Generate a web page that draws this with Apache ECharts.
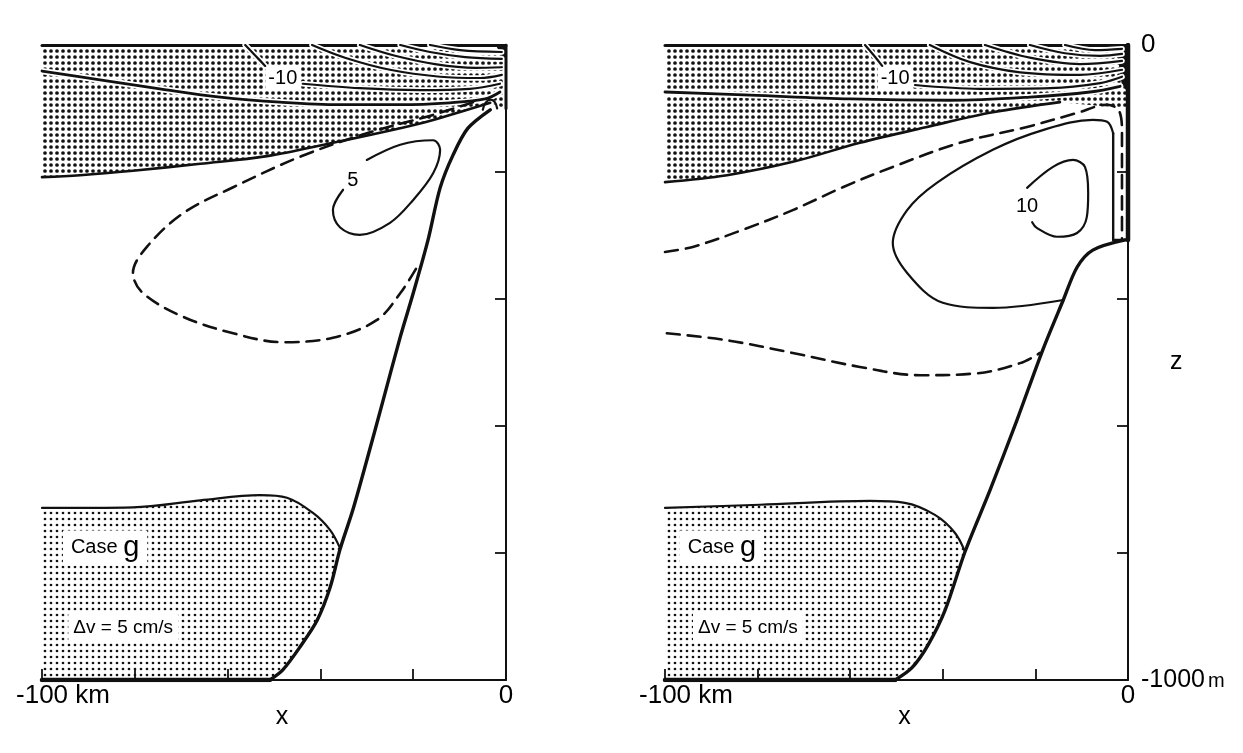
<!DOCTYPE html>
<html>
<head>
<meta charset="utf-8">
<script src="https://cdn.jsdelivr.net/npm/echarts@6/dist/echarts.min.js"></script>
<style>
  html, body { margin: 0; padding: 0; background: #ffffff; }
  #chart { width: 1243px; height: 753px; }
</style>
</head>
<body>
<div id="chart"></div>
<script>
// ---- axes -------------------------------------------------------------
const xRange = [-100, 0];      // km
const zRange = [-1000, 0];     // m
const xStep = 20;
const zStep = 200;
const xTickLabels = { '-100': '-100 km', '0': '0' };
const zTickLabels = { '0': '0', '-1000': '-1000 m' };

// ---- left section: contours of v, [x km, z m] -------------------------
const L_zeroTop = [[-3.4,-91],[-15.7,-118],[-22.8,-131],[-37.3,-154],[-51.5,-175],[-65.9,-187],[-80.4,-198],[-91.8,-205],[-100,-208]];
const L_neg5  = [[-100,-41],[-87.5,-55],[-74.6,-69],[-61.6,-82],[-48.7,-90],[-35.8,-94],[-22.8,-94],[-12.1,-91],[-4.5,-85],[-1.3,-74]];
const L_neg10a = [[-56.2,0],[-54.1,-16],[-51.9,-33]];
const L_neg10b = [[-43.8,-61],[-31.5,-68],[-18.5,-71],[-7.8,-69],[-1.3,-61]];
const L_neg15 = [[-41.8,0],[-34.7,-20],[-25,-39],[-14.2,-50],[-5.6,-52],[-0.9,-47]];
const L_neg20 = [[-31.5,0],[-23.9,-17],[-15.3,-30],[-6.7,-36],[-0.9,-35]];
const L_neg25 = [[-22.8,0],[-16.4,-11],[-8.8,-19],[-0.9,-22]];
const L_neg30 = [[-16.4,0],[-9.9,-8],[-0.9,-11]];
const L_cap   = [[-5,-102],[-4.5,-92],[-3.4,-86],[-2.4,-90],[-1.9,-100]];
const L_dashed = [[-7.1,-90],[-15.7,-110],[-30,-139],[-44.4,-176],[-58.8,-224],[-69.6,-265],[-77.4,-318],[-80.4,-359],[-78.2,-391],[-69.6,-428],[-58.8,-454],[-48.1,-468],[-37.3,-461],[-27.8,-433],[-22.8,-391],[-19.2,-350]];
const L_pos5  = [[-30,-181],[-22.8,-157],[-15.7,-150],[-14.2,-165],[-15.7,-202],[-20,-244],[-25,-280],[-31.5,-299],[-35.8,-287],[-37.3,-260],[-35.1,-228]];
const L_slope = [[-3.4,-102],[-8.2,-131],[-11.4,-173],[-14.2,-225],[-16.8,-307],[-20,-391],[-22.8,-460],[-26.5,-560],[-30,-654],[-33,-732],[-35.8,-795],[-37.9,-854],[-40.7,-906],[-44.4,-948],[-48.1,-984],[-50.9,-1000]];
const L_zeroLow = [[-100,-729],[-80.4,-728],[-65.9,-717],[-53,-709],[-47.2,-713],[-41.6,-737],[-37.9,-764],[-35.8,-792]];
const L_labels = [
  { x: -48.1, z: -52,  text: '-10' },
  { x: -33,   z: -213, text: '5' }
];
const L_notes = [
  { x: -86.4, z: -792, kind: 'case', text: 'Case g' },
  { x: -82.5, z: -917, kind: 'dv',   text: '\u0394v = 5 cm/s' }
];

// ---- right section ----------------------------------------------------
const R_zeroTop = [[0,-76],[-14.7,-90],[-29.2,-106],[-43.4,-129],[-57.9,-154],[-72.4,-184],[-86.6,-205],[-100,-216]];
const R_neg5  = [[-100,-74],[-81.6,-79],[-60,-85],[-38.4,-87],[-21.2,-82],[-8.2,-74],[-1.7,-65]];
const R_neg10a = [[-56.8,0],[-54.6,-19],[-53.1,-33]];
const R_neg10b = [[-46,-63],[-32,-69],[-16.8,-68],[-6,-60],[-1.3,-50]];
const R_neg15 = [[-42.8,0],[-34.1,-27],[-23.3,-43],[-10.4,-47],[-1.3,-39]];
const R_neg20 = [[-30.9,0],[-21.2,-20],[-10.4,-30],[-1.3,-25]];
const R_neg25 = [[-21.2,0],[-13.6,-13],[-6,-17],[-1.3,-14]];
const R_neg30 = [[-13.6,0],[-7.1,-8],[-1.3,-6]];
const R_dashedUp = [[-100,-326],[-94,-318],[-83.2,-291],[-72.4,-260],[-61.6,-224],[-50.8,-192],[-36.3,-154],[-21.8,-129],[-11,-107],[-4.5,-94],[-1.9,-104],[-1.3,-139],[-1.3,-307]];
const R_dashedLow = [[-99.6,-454],[-86.6,-465],[-72.4,-485],[-57.9,-507],[-44.9,-520],[-32.6,-517],[-23.3,-501],[-19,-485]];
const R_pos5  = [[-14.3,-402],[-29.2,-414],[-40,-406],[-47.7,-359],[-50.8,-312],[-47.7,-260],[-41.3,-217],[-29.2,-165],[-18.4,-134],[-7.6,-118],[-4.5,-121],[-3.2,-139],[-3.2,-307]];
const R_pos10 = [[-21.8,-225],[-16.2,-192],[-11.9,-181],[-9.3,-192],[-8.6,-233],[-8.9,-271],[-11,-296],[-15.3,-302],[-19.7,-288],[-20.7,-279]];
const R_shelf = [[-3.2,-307],[0,-307]];
const R_slope = [[-0.6,-307],[-7.6,-323],[-11,-350],[-14,-402],[-18.4,-480],[-24,-591],[-29.8,-701],[-35.2,-798],[-39.5,-890],[-43.2,-945],[-46.7,-981],[-50.3,-1000]];
const R_zeroLow = [[-100,-729],[-79.5,-724],[-55.7,-718],[-48.2,-721],[-41.7,-740],[-37.4,-768],[-35.2,-798]];
const R_labels = [
  { x: -50.3, z: -52,  text: '-10' },
  { x: -21.8, z: -255, text: '10' }
];
const R_notes = [
  { x: -87.7, z: -792, kind: 'case', text: 'Case g' },
  { x: -82.1, z: -917, kind: 'dv',   text: '\u0394v = 5 cm/s' }
];

// ---- drawing ----------------------------------------------------------
const INK = '#111111';
const FONT = '"Liberation Sans", Arial, Helvetica, sans-serif';

function dotPattern(step, r) {
  const c = document.createElement('canvas');
  c.width = c.height = step;
  const g = c.getContext('2d');
  g.fillStyle = INK;
  g.beginPath();
  g.arc(step / 2, step / 2, r, 0, Math.PI * 2);
  g.fill();
  return { image: c, repeat: 'repeat' };
}
const denseDots = dotPattern(6, 1.85);
const lightDots = dotPattern(6, 1.35);

function area(p, pts, fill, z) {
  return {
    type: 'custom', coordinateSystem: 'cartesian2d',
    xAxisIndex: 2 * p, yAxisIndex: p, silent: true, z: z || 1,
    data: [pts[0]],
    renderItem: (params, api) => ({
      type: 'polygon',
      shape: { points: pts.map(v => api.coord(v)) },
      style: { fill: fill, stroke: null }
    })
  };
}

function curve(p, pts, width, opts) {
  opts = opts || {};
  return {
    type: 'line', xAxisIndex: 2 * p, yAxisIndex: p, silent: true,
    data: pts, symbol: 'none', showSymbol: false,
    smooth: opts.smooth === undefined ? 0.35 : opts.smooth,
    z: opts.z || 4,
    lineStyle: {
      color: opts.color || INK, width: width,
      type: opts.dash || 'solid', cap: 'round', join: 'round'
    }
  };
}

// contour drawn over stipple: a white halo under the black line
function haloCurve(p, pts, width) {
  return [
    curve(p, pts, width + 3.5, { color: '#ffffff', z: 3 }),
    curve(p, pts, width, { z: 4 })
  ];
}

function labels(p, list) {
  return {
    type: 'scatter', xAxisIndex: 2 * p, yAxisIndex: p, silent: true, z: 6,
    symbolSize: 0, itemStyle: { opacity: 1 },
    data: list.map(d => ({ value: [d.x, d.z], name: d.text })),
    label: {
      show: true, position: 'inside', formatter: '{b}',
      color: '#000000', fontFamily: FONT, fontSize: 20,
      backgroundColor: '#ffffff', padding: [1, 3]
    }
  };
}

function notes(p, list) {
  return {
    type: 'scatter', xAxisIndex: 2 * p, yAxisIndex: p, silent: true, z: 6,
    symbolSize: 0, itemStyle: { opacity: 1 },
    data: list.map(d => ({
      value: [d.x, d.z], name: d.text,
      label: d.kind === 'case'
        ? { formatter: '{a|Case }{g|g}', padding: [3, 8] }
        : { formatter: '{d|' + d.text + '}', padding: [5, 5] }
    })),
    label: {
      show: true, position: 'inside', color: '#000000', fontFamily: FONT,
      backgroundColor: '#ffffff',
      rich: {
        a: { fontSize: 20, fontFamily: FONT, color: '#000000' },
        g: { fontSize: 29, fontFamily: FONT, color: '#000000' },
        d: { fontSize: 19, fontFamily: FONT, color: '#000000' }
      }
    }
  };
}

function panel(p, D) {
  const topZone = [[-100, 0], [0, 0], [0, D.zeroTop[0][1] - 10]].concat(D.zeroTop);
  const lowerSlope = D.slope.filter(v => v[1] < D.zeroLow[D.zeroLow.length - 1][1] - 5);
  const lowZone = D.zeroLow.concat(lowerSlope, [[-100, -1000]]);
  const bottomEdge = [[-100, -1000], lowerSlope[lowerSlope.length - 1]];
  let s = [
    area(p, topZone, denseDots, 1),
    area(p, lowZone, lightDots, 1),
    area(p, D.corner, INK, 2)
  ];
  [D.neg10a, D.neg10b, D.neg15, D.neg20, D.neg25, D.neg30].forEach(c => { s = s.concat(haloCurve(p, c, 2.2)); });
  s = s.concat(haloCurve(p, D.neg5, 2.8));
  s.push(curve(p, D.zeroTop, 2.6));
  s.push(curve(p, D.zeroLow, 2.2));
  s.push(curve(p, D.slope, 3.4, { smooth: 0.3 }));
  s.push(curve(p, bottomEdge, 4.5, { smooth: false }));
  D.solid.forEach(c => s.push(curve(p, c, 2.2)));
  D.dashed.forEach(c => s.push(curve(p, c, 2.6, { dash: [13, 8] })));
  D.straight.forEach(c => s.push(curve(p, c, 2.4, { smooth: false })));
  s.push(curve(p, D.wall, D.wallWidth, { smooth: false, z: 5 }));
  s.push(labels(p, D.labels));
  s.push(notes(p, D.notes));
  return s;
}

const series = [].concat(
  panel(0, {
    zeroTop: L_zeroTop, neg5: L_neg5, neg10a: L_neg10a, neg10b: L_neg10b,
    neg15: L_neg15, neg20: L_neg20, neg25: L_neg25, neg30: L_neg30,
    slope: L_slope, zeroLow: L_zeroLow,
    solid: [L_pos5, L_cap], dashed: [L_dashed], straight: [],
    corner: [[-2.2, 0], [0, 0], [0, -22], [-1.2, -14]],
    wall: [[0, 0], [0, -100]], wallWidth: 3,
    labels: L_labels, notes: L_notes
  }),
  panel(1, {
    zeroTop: R_zeroTop.slice(1), neg5: R_neg5, neg10a: R_neg10a, neg10b: R_neg10b,
    neg15: R_neg15, neg20: R_neg20, neg25: R_neg25, neg30: R_neg30,
    slope: R_slope, zeroLow: R_zeroLow,
    solid: [R_pos10], dashed: [R_dashedUp, R_dashedLow], straight: [R_pos5.slice(-2), R_shelf],
    corner: [[-2.6, 0], [0, 0], [0, -76], [-1.4, -60]],
    wall: [[0, 0], [0, -307]], wallWidth: 4.5,
    labels: R_labels, notes: R_notes
  })
);
// the big loop of the right section: curved part, then its straight drop
series.push(curve(1, R_pos5.slice(0, -1), 2.2));

const grids = [
  { left: 42, top: 45, width: 464, height: 635 },
  { left: 665, top: 45, width: 463, height: 635 }
];

const axisText = { color: '#000000', fontFamily: FONT, fontSize: 26 };

const xAxes = [];
const yAxes = [];
[0, 1].forEach(p => {
  xAxes.push({
    gridIndex: p, type: 'value', min: xRange[0], max: xRange[1], interval: xStep,
    position: 'bottom',
    axisLine: { show: true, onZero: false, lineStyle: { color: INK, width: 1.8 } },
    axisTick: { show: true, inside: true, length: 11, lineStyle: { color: INK, width: 1.8 } },
    axisLabel: Object.assign({
      show: true, margin: 3, showMinLabel: true, showMaxLabel: true,
      formatter: v => (v === -100 ? '{o|' + xTickLabels[v] + '}' : (xTickLabels[String(v)] || '')),
      rich: { o: Object.assign({ padding: [0, 0, 0, 42] }, axisText) }
    }, axisText),
    splitLine: { show: false },
    name: 'x', nameLocation: 'middle', nameGap: 25, nameMoveOverlap: false,
    nameTextStyle: Object.assign({ padding: [0, 0, 0, 16] }, axisText, { fontSize: 25 })
  });
  xAxes.push({
    gridIndex: p, type: 'value', min: xRange[0], max: xRange[1],
    position: 'top',
    axisLine: { show: true, onZero: false, lineStyle: { color: INK, width: 3 } },
    axisTick: { show: false }, axisLabel: { show: false }, splitLine: { show: false }
  });
  yAxes.push({
    gridIndex: p, type: 'value', min: zRange[0], max: zRange[1], interval: zStep,
    position: 'right',
    axisLine: { show: true, onZero: false, lineStyle: { color: INK, width: 2 } },
    axisTick: { show: true, inside: true, length: 11, lineStyle: { color: INK, width: 1.8 } },
    axisLabel: Object.assign({
      show: p === 1, margin: 13, showMinLabel: true, showMaxLabel: true,
      formatter: v => {
        const t = zTickLabels[String(v)] || '';
        return t.endsWith(' m') ? '{n|' + t.slice(0, -2) + '}{u|m}' : t;
      },
      rich: {
        n: Object.assign({}, axisText, { fontSize: 25 }),
        u: Object.assign({}, axisText, { fontSize: 20, padding: [3, 0, 0, 3] })
      }
    }, axisText),
    splitLine: { show: false },
    name: p === 1 ? 'z' : '', nameLocation: 'middle', nameGap: 42, nameRotate: 0,
    nameMoveOverlap: false,
    nameTextStyle: Object.assign({ padding: [24, 0, 0, 0] }, axisText, { fontSize: 25 })
  });
});

const chart = echarts.init(document.getElementById('chart'), null, { renderer: 'canvas' });
chart.setOption({
  animation: false,
  backgroundColor: '#ffffff',
  grid: grids,
  xAxis: xAxes,
  yAxis: yAxes,
  series: series
});
</script>
</body>
</html>
